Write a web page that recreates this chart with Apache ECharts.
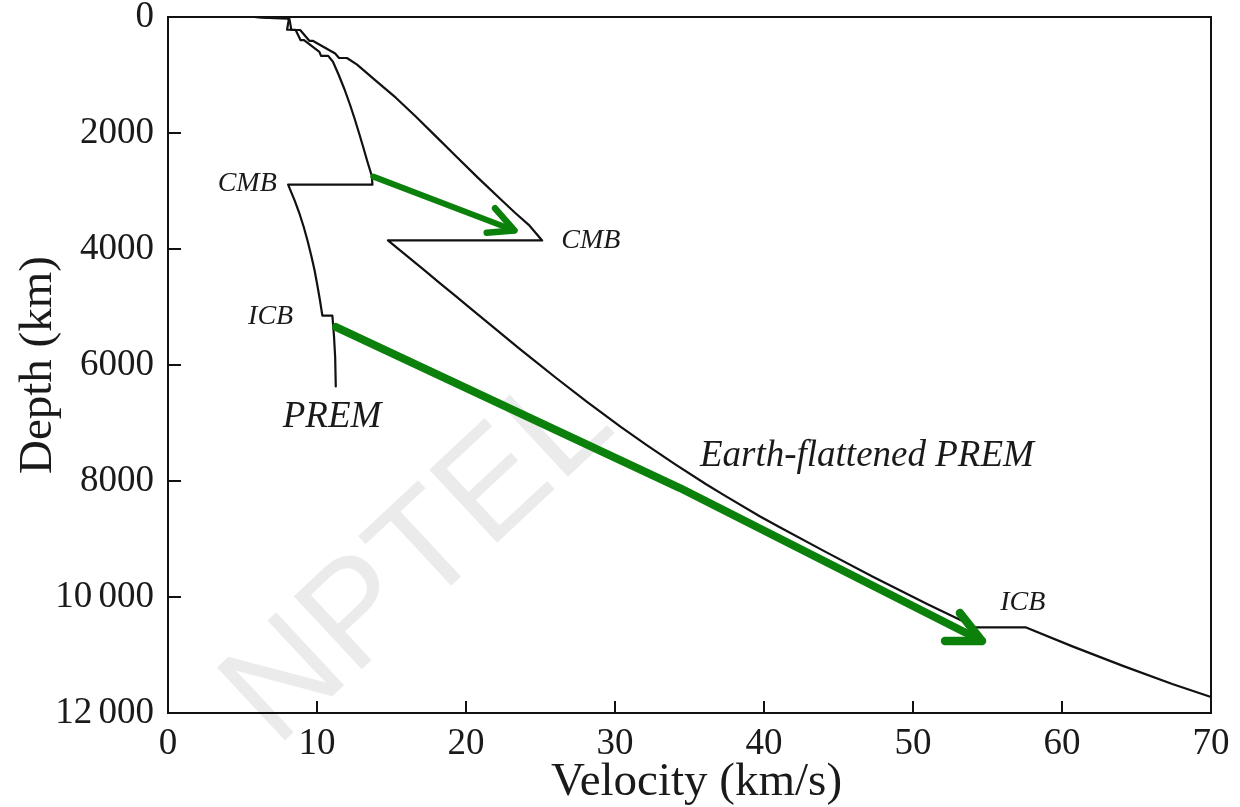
<!DOCTYPE html>
<html><head><meta charset="utf-8">
<script src="https://cdn.jsdelivr.net/npm/echarts@6/dist/echarts.min.js"></script>
<style>html,body{margin:0;padding:0;background:#fff}#c{width:1240px;height:807px}</style>
</head><body><div id="c"></div>
<script>
// PREM P-wave velocity (km/s) vs depth (km)
const premDepth = [0, 15, 15, 24, 24, 80, 220, 220, 400, 400, 600, 670, 670, 771, 1000, 1250, 1500, 1750, 2000, 2250, 2500, 2741, 2891, 2891, 3171, 3371, 3621, 3871, 4121, 4371, 4621, 4871, 5150, 5150, 5271, 5500, 5871, 6371];
const premVel   = [5.8, 5.8, 6.8, 6.8, 8.11, 8.08, 7.99, 8.56, 8.9, 9.13, 10.16, 10.27, 10.75, 11.07, 11.46, 11.85, 12.2, 12.52, 12.82, 13.11, 13.39, 13.68, 13.72, 8.06, 8.51, 8.80, 9.11, 9.38, 9.62, 9.84, 10.02, 10.19, 10.36, 11.03, 11.07, 11.14, 11.22, 11.26];
// Earth-flattened PREM
const flatDepth = [0, 15, 15, 24, 24, 80, 224, 224, 413, 413, 630, 707, 707, 822, 1088, 1391, 1711, 2045, 2400, 2774, 3173, 3375, 3583, 3853, 3853, 4387, 4589, 4797, 5014, 5352, 5710, 5959, 6220, 6630, 7071, 7381, 7708, 8052, 8231, 8607, 8803, 9213, 9654, 9884, 10126, 10523, 10523, 10851, 11192, 11500, 11724];
const flatVel   = [5.8, 5.81, 6.82, 6.83, 8.14, 8.18, 8.28, 8.87, 9.5, 9.74, 11.22, 11.48, 12.01, 12.69, 13.9, 15.29, 16.61, 17.93, 19.33, 20.81, 22.45, 23.29, 24.21, 25.11, 14.76, 17.3, 18.24, 19.23, 20.26, 21.85, 23.54, 24.76, 26.03, 28.1, 30.41, 32.13, 34.02, 36.09, 37.23, 39.71, 41.09, 44.07, 47.34, 49.11, 50.98, 54.2, 57.55, 60.7, 64.13, 67.4, 70];
// Green arrows (velocity, depth)
const arrow1ShaftVel = [13.78, 23.25];
const arrow1ShaftDepth = [2753, 3680];
const arrow1HeadVel = [21.95, 23.25, 21.39];
const arrow1HeadDepth = [3298, 3680, 3719];
const arrow2ShaftVel = [11.28, 34.36, 54.63];
const arrow2ShaftDepth = [5345, 8121, 10759];
const arrow2HeadVel = [53.15, 54.63, 52.15];
const arrow2HeadDepth = [10276, 10759, 10759];
// axes
const xTicks = [0, 10, 20, 30, 40, 50, 60, 70];
const yTickLabels = ['0', '2000', '4000', '6000', '8000', '10\u2006000', '12\u2006000'];
// annotations
const annText  = ['CMB', 'CMB', 'ICB', 'ICB', 'PREM', 'Earth-flattened PREM'];
const annVel   = [7.3, 26.4, 8.4, 55.85, 7.7, 35.7];
const annDepth = [2880, 3860, 5170, 10100, 6900, 7570];
const annAlign = ['right', 'left', 'right', 'left', 'left', 'left'];
const annSize  = [28, 28, 28, 28, 37, 37];

const zip = (a, b) => a.map((v, i) => [v, b[i]]);
const FONT = '"Liberation Serif", "Times New Roman", serif';
const GREEN = '#0b800b';

const chart = echarts.init(document.getElementById('c'), null, {renderer: 'canvas'});
const lineSeries = (data, color, width) => ({
  type: 'line', data, showSymbol: false, symbol: 'none', smooth: false,
  lineStyle: {color, width, cap: 'round', join: 'round'}, animation: false, silent: true, z: 3
});
chart.setOption({
  backgroundColor: '#fff',
  animation: false,
  grid: {left: 168, right: 29, top: 17, bottom: 94, containLabel: false, outerBoundsMode: 'none',
    show: true, borderColor: '#111', borderWidth: 2, backgroundColor: 'transparent'},
  xAxis: {
    type: 'value', min: 0, max: 70, interval: 10,
    name: 'Velocity (km/s)', nameLocation: 'middle', nameGap: 46, nameMoveOverlap: false,
    nameTextStyle: {fontFamily: FONT, fontSize: 47, color: '#1a1a1a', padding: [0, 0, 0, 14]},
    axisLine: {show: true, onZero: false, lineStyle: {color: '#111', width: 2}},
    axisTick: {show: true, inside: true, length: 12, lineStyle: {color: '#111', width: 2}},
    axisLabel: {fontFamily: FONT, fontSize: 37, color: '#1a1a1a', margin: 13,
      formatter: v => String(xTicks[xTicks.indexOf(v)])},
    splitLine: {show: false}
  },
  yAxis: {
    type: 'value', min: 0, max: 12000, interval: 2000, inverse: true,
    name: 'Depth (km)', nameLocation: 'middle', nameGap: 106, nameRotate: 90, nameMoveOverlap: false,
    nameTextStyle: {fontFamily: FONT, fontSize: 47, color: '#1a1a1a'},
    axisLine: {show: true, onZero: false, lineStyle: {color: '#111', width: 2}},
    axisTick: {show: true, inside: true, length: 13, lineStyle: {color: '#111', width: 2}},
    axisLabel: {fontFamily: FONT, fontSize: 37, color: '#1a1a1a', margin: 14,
      formatter: v => yTickLabels[Math.round(v / 2000)]},
    splitLine: {show: false}
  },
  series: [
    lineSeries(zip(premVel, premDepth), '#111', 2.2),
    lineSeries(zip(flatVel, flatDepth), '#111', 2.2),
    lineSeries(zip(arrow1ShaftVel, arrow1ShaftDepth), GREEN, 6),
    lineSeries(zip(arrow1HeadVel, arrow1HeadDepth), GREEN, 6.5),
    lineSeries(zip(arrow2ShaftVel, arrow2ShaftDepth), GREEN, 8),
    lineSeries(zip(arrow2HeadVel, arrow2HeadDepth), GREEN, 8.5)
  ]
});

const graphics = [{
  type: 'text', silent: true, z: 0,
  x: 420, y: 560, rotation: 43 * Math.PI / 180,
  style: {text: 'NPTEL', fontFamily: '"Liberation Sans", Arial, sans-serif', fontSize: 145,
    fill: 'rgba(0,0,0,0.08)', align: 'center', verticalAlign: 'middle'}
}];
annText.forEach((t, i) => {
  const p = chart.convertToPixel({gridIndex: 0}, [annVel[i], annDepth[i]]);
  graphics.push({
    type: 'text', silent: true, z: 10, x: p[0], y: p[1],
    style: {text: t, fontFamily: FONT, fontStyle: 'italic', fontSize: annSize[i], fill: '#1a1a1a',
      align: annAlign[i], verticalAlign: 'middle'}
  });
});
chart.setOption({graphic: graphics});
</script></body></html>
